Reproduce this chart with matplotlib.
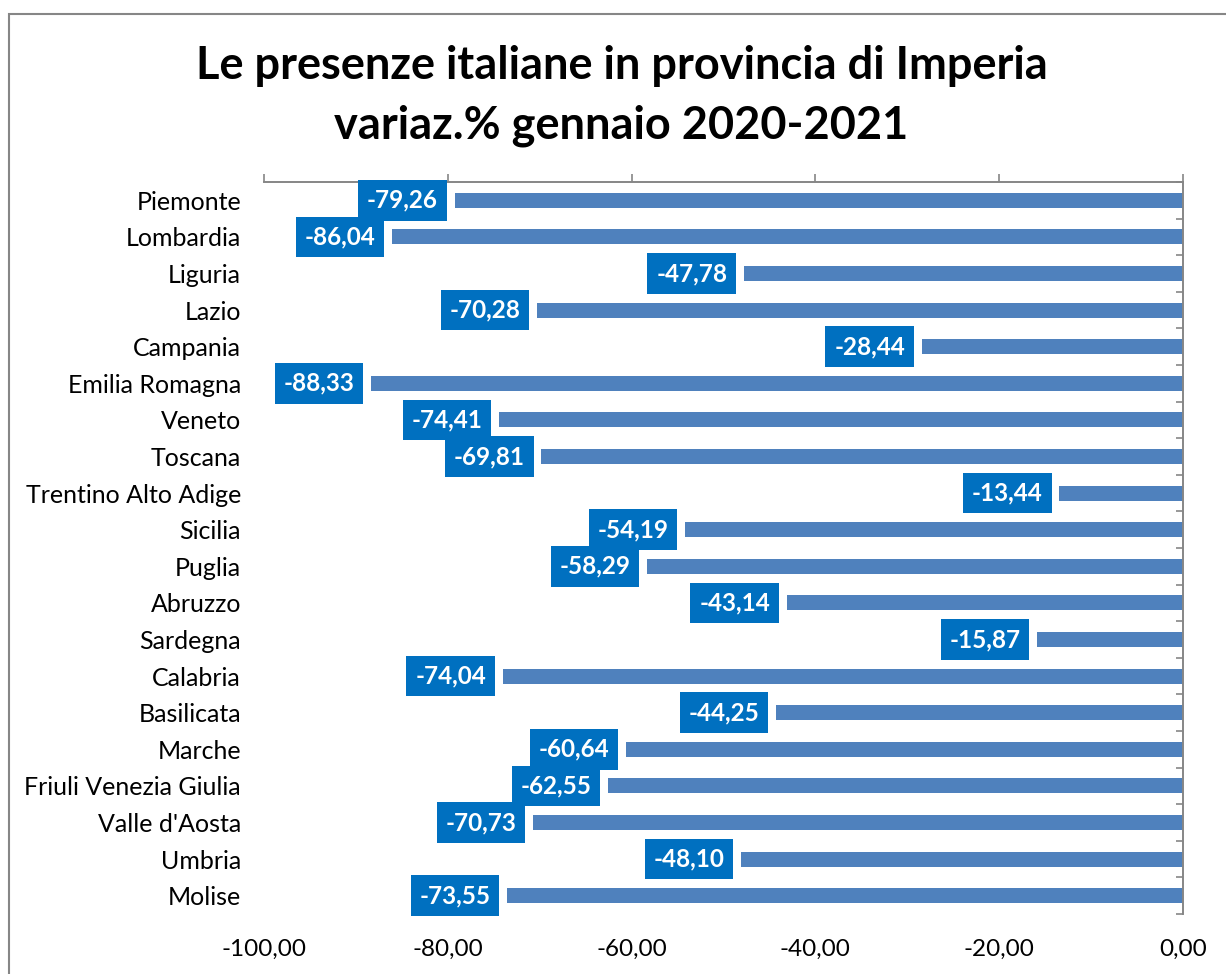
import matplotlib
matplotlib.use("Agg")
import matplotlib.pyplot as plt
from matplotlib.patches import Rectangle
from matplotlib.ticker import FixedLocator

plt.rcParams['font.family'] = ['Lato', 'DejaVu Sans']

regions = ["Piemonte", "Lombardia", "Liguria", "Lazio", "Campania",
           "Emilia Romagna", "Veneto", "Toscana", "Trentino Alto Adige",
           "Sicilia", "Puglia", "Abruzzo", "Sardegna", "Calabria",
           "Basilicata", "Marche", "Friuli Venezia Giulia", "Valle d'Aosta",
           "Umbria", "Molise"]
variation = [-79.26, -86.04, -47.78, -70.28, -28.44, -88.33, -74.41, -69.81,
             -13.44, -54.19, -58.29, -43.14, -15.87, -74.04, -44.25, -60.64,
             -62.55, -70.73, -48.10, -73.55]
x_ticks = [-100, -80, -60, -40, -20, 0]

title_1 = "Le presenze italiane in provincia di Imperia"
title_2 = "variaz.% gennaio 2020-2021"

BAR = "#4F81BD"
BOX = "#0070C0"
GREY = "#868686"


def fmt(v):
    return f"{v:.2f}".replace(".", ",")


fig = plt.figure(figsize=(12.26, 9.74), dpi=100)
W, H = 1226, 974
ax = fig.add_axes([264 / W, 1 - 914 / H, (1183 - 264) / W, (914 - 182) / H])

pos = list(range(len(regions)))
ax.barh(pos, variation, height=0.41, color=BAR, zorder=2)

ax.set_xlim(-100, 0)
ax.set_ylim(len(regions) - 0.5, -0.5)

for y, v in zip(pos, variation):
    ax.annotate(fmt(v), xy=(v, y), xytext=(-12, 0), textcoords="offset points",
                ha="right", va="center", color="white", fontsize=17.5,
                fontweight="bold", zorder=4,
                bbox=dict(boxstyle="square,pad=0.36", fc=BOX, ec="none"))

# x axis: ticks on top, labels at bottom
ax.set_xticks(x_ticks)
ax.set_xticklabels([fmt(t) for t in x_ticks], fontsize=17.5)
ax.tick_params(axis="x", which="major", top=True, bottom=False,
               labeltop=False, labelbottom=True, direction="out",
               length=6, width=1.2, color=GREY, pad=12)

# y axis: labels on the left, boundary ticks on the right spine
ax.set_yticks(pos)
ax.set_yticklabels(regions, fontsize=18)
ax.tick_params(axis="y", which="major", left=False, right=False, pad=13)
ax.yaxis.set_minor_locator(FixedLocator([p - 0.5 for p in pos] + [len(pos) - 0.5]))
ax.tick_params(axis="y", which="minor", left=False, right=True,
               direction="in", length=5, width=1.2, color=GREY)

for side in ["left", "bottom"]:
    ax.spines[side].set_visible(False)
for side in ["top", "right"]:
    ax.spines[side].set_color(GREY)
    ax.spines[side].set_linewidth(1.4)

fig.text(0.507, 1 - 66 / H, title_1, ha="center", va="center",
         fontsize=32.5, fontweight="bold")
fig.text(0.507, 1 - 126 / H, title_2, ha="center", va="center",
         fontsize=32.5, fontweight="bold")

# chart frame (runs off the right and bottom edges)
fig.patches.append(Rectangle((9 / W, -0.1), 1.2, 1 - 14 / H + 0.1,
                             transform=fig.transFigure, fill=False,
                             ec=GREY, lw=1.5))

fig.savefig("out.png", dpi=100)
